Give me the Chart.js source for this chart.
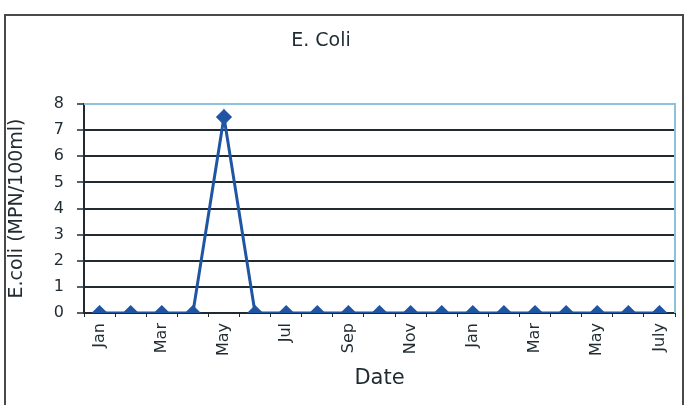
<!DOCTYPE html>
<html>
<head>
<meta charset="utf-8">
<script src="https://cdn.jsdelivr.net/npm/chart.js@4/dist/chart.umd.min.js"></script>
<style>
  html, body { margin: 0; padding: 0; background: #ffffff; }
  #wrap { width: 691px; height: 405px; position: relative; }
</style>
</head>
<body>
<div id="wrap"><canvas id="c" width="691" height="405"></canvas></div>
<script>
// Monthly sampling dates (Jan through July of the following year)
const months = ["Jan", "Feb", "Mar", "Apr", "May", "Jun", "Jul", "Aug", "Sep", "Oct",
                "Nov", "Dec", "Jan", "Feb", "Mar", "Apr", "May", "Jun", "July"];
// E. coli counts, MPN per 100 ml
const ecoli = [0, 0, 0, 0, 7.5, 0, 0, 0, 0, 0, 0, 0, 0, 0, 0, 0, 0, 0, 0];
const yTicks = [0, 1, 2, 3, 4, 5, 6, 7, 8];

const chartTitle = "E. Coli";
const yTitle = "E.coli (MPN/100ml)";
const xTitle = "Date";

const ink = "#1f2b31";
const lineBlue = "#1f55a3";
const edgeBlue = "#8cc3dc";

// Outer frame, chart title and the light plot-area edges
const framePlugin = {
  id: "frame",
  beforeDraw(chart) {
    const ctx = chart.ctx;
    ctx.save();
    ctx.fillStyle = "#ffffff";
    ctx.fillRect(0, 0, chart.width, chart.height);
    ctx.strokeStyle = "#4a4a4a";
    ctx.lineWidth = 2;
    ctx.beginPath();
    ctx.moveTo(5, 405);
    ctx.lineTo(5, 15);
    ctx.lineTo(683, 15);
    ctx.lineTo(683, 405);
    ctx.stroke();
    ctx.fillStyle = ink;
    ctx.font = "19px 'DejaVu Sans'";
    ctx.textAlign = "center";
    ctx.textBaseline = "middle";
    ctx.fillText(chartTitle, 321, 41);
    ctx.restore();
  },
  beforeDatasetsDraw(chart) {
    const a = chart.chartArea;
    const ctx = chart.ctx;
    ctx.save();
    ctx.strokeStyle = edgeBlue;
    ctx.lineWidth = 2;
    ctx.beginPath();
    ctx.moveTo(a.left, a.top);
    ctx.lineTo(a.right, a.top);
    ctx.lineTo(a.right, a.bottom);
    ctx.stroke();
    ctx.restore();
  }
};

new Chart(document.getElementById("c"), {
  type: "line",
  data: {
    labels: months,
    datasets: [{
      data: ecoli,
      borderColor: lineBlue,
      backgroundColor: lineBlue,
      borderWidth: 3,
      pointStyle: "rectRot",
      pointRadius: 6,
      pointHoverRadius: 6,
      tension: 0
    }]
  },
  options: {
    responsive: false,
    animation: false,
    devicePixelRatio: 1,
    layout: { padding: { left: 5, right: 16, top: 104, bottom: 0 } },
    plugins: {
      legend: { display: false },
      title: { display: false },
      tooltip: { enabled: false }
    },
    scales: {
      x: {
        type: "category",
        offset: true,
        grid: {
          offset: true,
          drawOnChartArea: false,
          drawTicks: true,
          tickLength: 4,
          tickColor: ink,
          tickWidth: 1
        },
        border: { display: true, color: ink, width: 2 },
        ticks: {
          autoSkip: false,
          minRotation: 90,
          maxRotation: 90,
          padding: 6,
          color: ink,
          font: { family: "DejaVu Sans", size: 16 },
          callback: function (value, index) {
            return index % 2 === 0 ? this.getLabelForValue(value) : "";
          }
        },
        title: {
          display: true,
          text: xTitle,
          color: ink,
          font: { family: "DejaVu Sans", size: 21 },
          padding: { top: 4, bottom: 14 }
        },
        afterFit(scale) { scale.height = 92; }
      },
      y: {
        min: 0,
        max: 8,
        afterBuildTicks(scale) { scale.ticks = yTicks.map(v => ({ value: v })); },
        grid: {
          color: (c) => (c.tick && c.tick.value === 8 ? edgeBlue : ink),
          lineWidth: 2,
          drawTicks: true,
          tickLength: 7,
          tickColor: ink,
          tickWidth: 1.5
        },
        border: { display: true, color: ink, width: 2 },
        ticks: {
          padding: 13,
          color: ink,
          font: { family: "DejaVu Sans", size: 16 }
        },
        title: {
          display: true,
          text: yTitle,
          color: ink,
          font: { family: "DejaVu Sans", size: 19 },
          padding: { top: 1, bottom: 0 }
        },
        afterFit(scale) { scale.width = 79; }
      }
    }
  },
  plugins: [framePlugin]
});
</script>
</body>
</html>
